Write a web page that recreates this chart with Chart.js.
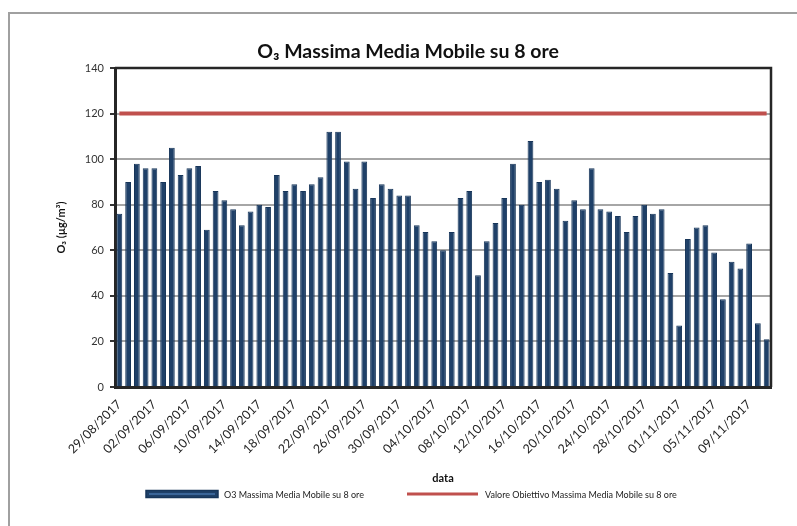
<!DOCTYPE html>
<html>
<head>
<meta charset="utf-8">
<script src="https://cdn.jsdelivr.net/npm/chart.js@4"></script>
<style>
  html, body { margin: 0; padding: 0; background: #fff; }
</style>
</head>
<body>
<canvas id="o3-chart" width="797" height="526"></canvas>
<script>
// giorni di misura
const dates = [
  '29/08/2017','30/08/2017','31/08/2017',
  '01/09/2017','02/09/2017','03/09/2017','04/09/2017','05/09/2017','06/09/2017','07/09/2017','08/09/2017','09/09/2017','10/09/2017',
  '11/09/2017','12/09/2017','13/09/2017','14/09/2017','15/09/2017','16/09/2017','17/09/2017','18/09/2017','19/09/2017','20/09/2017',
  '21/09/2017','22/09/2017','23/09/2017','24/09/2017','25/09/2017','26/09/2017','27/09/2017','28/09/2017','29/09/2017','30/09/2017',
  '01/10/2017','02/10/2017','03/10/2017','04/10/2017','05/10/2017','06/10/2017','07/10/2017','08/10/2017','09/10/2017','10/10/2017',
  '11/10/2017','12/10/2017','13/10/2017','14/10/2017','15/10/2017','16/10/2017','17/10/2017','18/10/2017','19/10/2017','20/10/2017',
  '21/10/2017','22/10/2017','23/10/2017','24/10/2017','25/10/2017','26/10/2017','27/10/2017','28/10/2017','29/10/2017','30/10/2017','31/10/2017',
  '01/11/2017','02/11/2017','03/11/2017','04/11/2017','05/11/2017','06/11/2017','07/11/2017','08/11/2017','09/11/2017','10/11/2017','11/11/2017'
];

// O3 massima media mobile su 8 ore (µg/m³)
const o3Values = [
  76, 90, 98,
  96, 96, 90, 105, 93, 96, 97, 69, 86, 82,
  78, 71, 77, 80, 79, 93, 86, 89, 86, 89,
  92, 112, 112, 99, 87, 99, 83, 89, 87, 84,
  84, 71, 68, 64, 60, 68, 83, 86, 49, 64,
  72, 83, 98, 80, 108, 90, 91, 87, 73, 82,
  78, 96, 78, 77, 75, 68, 75, 80, 76, 78, 50,
  27, 65, 70, 71, 59, 38.5, 55, 52, 63, 28, 21
];

const targetValue = 120;   // valore obiettivo
const yTicks = [0, 20, 40, 60, 80, 100, 120, 140];

const barLabel = 'O3 Massima Media Mobile su 8 ore';
const lineLabel = 'Valore Obiettivo Massima Media Mobile su 8 ore';

const barColor = '#1f4068';
const barBorder = '#173559';
const lineColor = '#c0504d';
const FONT = 'Lato, "Open Sans", sans-serif';

// cornice grigia, bordo area grafico e legenda in basso
const decoPlugin = {
  id: 'deco',
  beforeDraw(chart) {
    const ctx = chart.ctx;
    ctx.save();
    ctx.strokeStyle = '#a0a0a0';
    ctx.lineWidth = 2;
    ctx.beginPath();
    ctx.moveTo(9, 526);
    ctx.lineTo(9, 13);
    ctx.lineTo(797, 13);
    ctx.stroke();
    ctx.restore();
  },
  afterDraw(chart) {
    const ctx = chart.ctx;
    const a = chart.chartArea;
    ctx.save();
    ctx.strokeStyle = '#262626';
    ctx.lineWidth = 2.5;
    ctx.beginPath();
    ctx.moveTo(a.left, a.top);
    ctx.lineTo(a.right, a.top);
    ctx.lineTo(a.right, a.bottom);
    ctx.stroke();

    // legenda
    const ly = 494;
    ctx.fillStyle = barColor;
    ctx.strokeStyle = barBorder;
    ctx.lineWidth = 1.5;
    ctx.fillRect(146, ly - 3.5, 72, 7);
    ctx.strokeRect(146, ly - 3.5, 72, 7);
    ctx.fillStyle = '#3a6598';
    ctx.fillRect(149, ly - 1, 66, 2);
    ctx.strokeStyle = lineColor;
    ctx.lineWidth = 3;
    ctx.beginPath();
    ctx.moveTo(407, ly);
    ctx.lineTo(478, ly);
    ctx.stroke();
    ctx.fillStyle = '#222';
    ctx.font = '9px ' + FONT;
    ctx.textBaseline = 'middle';
    ctx.textAlign = 'left';
    ctx.fillText(chart.data.datasets[0].label, 224, ly + 1);
    ctx.fillText(chart.data.datasets[1].label, 485, ly + 1);
    ctx.restore();
  }
};

new Chart(document.getElementById('o3-chart'), {
  data: {
    labels: dates,
    datasets: [{
      type: 'bar',
      label: barLabel,
      data: o3Values,
      backgroundColor: barColor,
      borderColor: barBorder,
      borderWidth: 1,
      barPercentage: 0.66,
      categoryPercentage: 1.0,
      order: 2
    }, {
      type: 'line',
      label: lineLabel,
      data: [{x: dates[0], y: targetValue}, {x: dates[dates.length - 1], y: targetValue}],
      borderColor: lineColor,
      borderWidth: 4,
      pointRadius: 0,
      fill: false,
      order: 1
    }]
  },
  options: {
    responsive: false,
    animation: false,
    layout: { padding: { left: 45, right: 26, top: 30, bottom: 40 } },
    plugins: {
      legend: { display: false },
      tooltip: { enabled: false },
      title: {
        display: true,
        text: 'O₃ Massima Media Mobile su 8 ore',
        color: '#111',
        font: { family: FONT, size: 19.5, weight: 'bold' },
        padding: { top: 10, bottom: 4.6 }
      }
    },
    scales: {
      x: {
        offset: true,
        grid: { display: false },
        border: { display: true, color: '#262626', width: 3 },
        ticks: {
          autoSkip: false,
          minRotation: 45,
          maxRotation: 45,
          padding: 2,
          color: '#222',
          font: { family: FONT, size: 12.5 },
          callback: function (value, index) {
            return index % 4 === 0 ? this.getLabelForValue(value) : '';
          }
        },
        title: {
          display: true,
          text: 'data',
          color: '#111',
          font: { family: FONT, size: 11, weight: 'bold' },
          padding: { top: 4, bottom: 1.4 }
        },
        afterFit(scale) { scale.height = 99; }
      },
      y: {
        min: 0,
        max: 140,
        grid: { color: '#a6a6a6', lineWidth: 2, tickLength: 5, tickColor: '#333' },
        border: { display: true, color: '#262626', width: 3 },
        afterBuildTicks(scale) { scale.ticks = yTicks.map(v => ({ value: v })); },
        ticks: {
          padding: 6,
          color: '#333',
          font: { family: FONT, size: 11 }
        },
        title: {
          display: true,
          text: 'O₃ (µg/m³)',
          color: '#111',
          font: { family: FONT, size: 11, weight: 'bold' },
          padding: { top: 10, bottom: 0 }
        },
        afterFit(scale) { scale.width = 70; }
      }
    }
  },
  plugins: [decoPlugin]
});
</script>
</body>
</html>
